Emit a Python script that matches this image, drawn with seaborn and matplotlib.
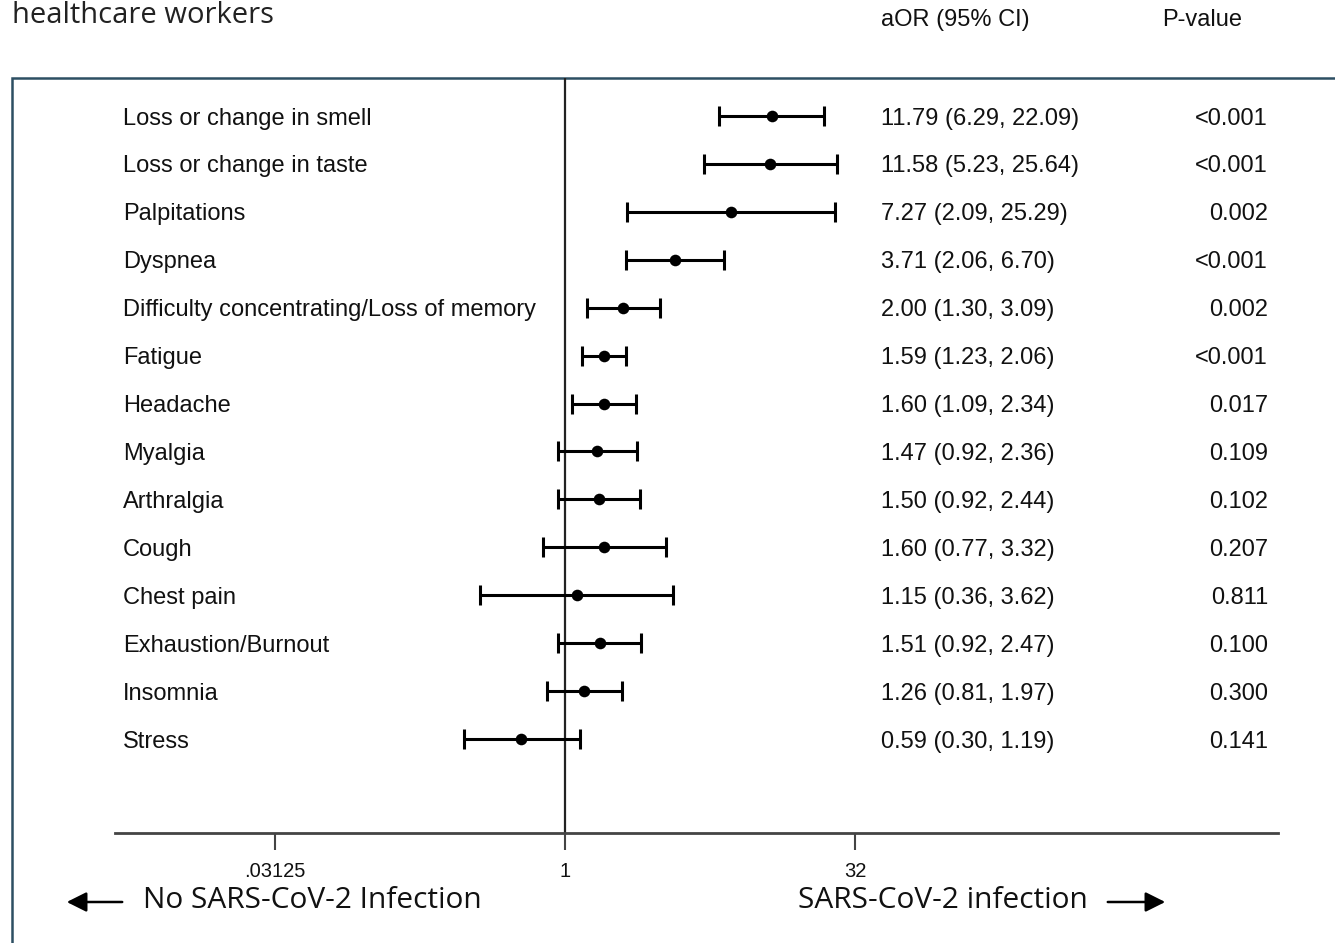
import numpy as np
import pandas as pd
import matplotlib
matplotlib.use("Agg")
import matplotlib.pyplot as plt
import matplotlib.transforms as mtransforms
from matplotlib.patches import Rectangle, FancyArrowPatch
import seaborn as sns

# ---- data ----
symptoms = ["Loss or change in smell", "Loss or change in taste", "Palpitations", "Dyspnea",
            "Difficulty concentrating/Loss of memory", "Fatigue", "Headache", "Myalgia",
            "Arthralgia", "Cough", "Chest pain", "Exhaustion/Burnout", "Insomnia", "Stress"]
aor = [11.79, 11.58, 7.27, 3.71, 2.00, 1.59, 1.60, 1.47, 1.50, 1.60, 1.15, 1.51, 1.26, 0.59]
ci_low = [6.29, 5.23, 2.09, 2.06, 1.30, 1.23, 1.09, 0.92, 0.92, 0.77, 0.36, 0.92, 0.81, 0.30]
ci_high = [22.09, 25.64, 25.29, 6.70, 3.09, 2.06, 2.34, 2.36, 2.44, 3.32, 3.62, 2.47, 1.97, 1.19]
p_values = ["<0.001", "<0.001", "0.002", "<0.001", "0.002", "<0.001", "0.017", "0.109",
            "0.102", "0.207", "0.811", "0.100", "0.300", "0.141"]
tick_vals = [0.03125, 1, 32]
tick_labels = [".03125", "1", "32"]

df = pd.DataFrame({"symptom": symptoms, "aor": aor, "lo": ci_low, "hi": ci_high, "p": p_values})
df["row"] = np.arange(len(df))

sns.set_theme(style="white")
plt.rcParams["font.family"] = ["Liberation Sans", "DejaVu Sans"]

W, H = 1335, 943
fig = plt.figure(figsize=(W / 100, H / 100), dpi=100)
fig.patch.set_facecolor("white")

# axes placement (pixels -> fractions)
ax_l, ax_r, ax_top, ax_bot = 115, 1278, 78, 833
ax = fig.add_axes([ax_l / W, (H - ax_bot) / H, (ax_r - ax_l) / W, (ax_bot - ax_top) / H])
ax.set_facecolor("none")

txt = "#111111"
fs = 17
# error bars
ax.errorbar(df["aor"], df["row"],
            xerr=[df["aor"] - df["lo"], df["hi"] - df["aor"]],
            fmt="none", ecolor="black", elinewidth=2.2, capsize=7, capthick=2.2, zorder=3)
sns.scatterplot(data=df, x="aor", y="row", ax=ax, color="black", s=70,
                edgecolor="black", linewidth=0, zorder=4, legend=False)

ax.set_xscale("log", base=2)
ax.set_xlim(2 ** -7.76, 2 ** 12.29)
ax.set_ylim(14.96, -0.793)
ax.axvline(1, color="#222222", lw=1.6, zorder=2)

for s in ["top", "right", "left"]:
    ax.spines[s].set_visible(False)
ax.spines["bottom"].set_color("#444444")
ax.spines["bottom"].set_linewidth(2)
ax.set_xticks(tick_vals)
ax.set_xticklabels(tick_labels)
ax.xaxis.set_minor_locator(matplotlib.ticker.NullLocator())
ax.tick_params(axis="x", bottom=True, direction="out", length=12, width=1.5,
               color="#444444", labelsize=14.5, labelcolor=txt, pad=9)
ax.set_yticks([])
ax.set_xlabel("")
ax.set_ylabel("")

trans = mtransforms.blended_transform_factory(ax.transAxes, ax.transData)
x_lab = (123 - ax_l) / (ax_r - ax_l)
x_or = (881 - ax_l) / (ax_r - ax_l)
x_p = (1268 - ax_l) / (ax_r - ax_l)
for _, r in df.iterrows():
    ax.text(x_lab, r["row"], r["symptom"], transform=trans, ha="left", va="center_baseline",
            fontsize=fs, color=txt)
    ax.text(x_or, r["row"], f"{r['aor']:.2f} ({r['lo']:.2f}, {r['hi']:.2f})", transform=trans,
            ha="left", va="center_baseline", fontsize=fs, color=txt)
    ax.text(x_p, r["row"], r["p"], transform=trans, ha="right", va="center_baseline",
            fontsize=fs, color=txt)

# headers
fig.text(881 / W, (H - 20) / H, "aOR (95% CI)", ha="left", va="center", fontsize=fs, color=txt)
fig.text(1162 / W, (H - 20) / H, "P-value", ha="left", va="center", fontsize=fs, color=txt)

# title fragment at top
fig.text(12 / W, (H - 1) / H, "healthcare workers", ha="left", va="top",
         fontsize=21, color="#222222", family=["Open Sans", "DejaVu Sans"])

# frame box
fig.add_artist(Rectangle((12 / W, -0.1), 2.0, (H - 78) / H + 0.1, transform=fig.transFigure,
                         fill=False, edgecolor="#2d4f63", linewidth=1.8, zorder=0))

# direction labels with arrows
fig.text(143 / W, (H - 901) / H, "No SARS-CoV-2 Infection", ha="left", va="center",
         fontsize=21.5, color=txt, family=["Open Sans", "DejaVu Sans"])
fig.text(798 / W, (H - 901) / H, "SARS-CoV-2 infection", ha="left", va="center",
         fontsize=21.5, color=txt, family=["Open Sans", "DejaVu Sans"])
fig.add_artist(FancyArrowPatch((125 / W, (H - 902) / H), (64 / W, (H - 902) / H),
               transform=fig.transFigure, arrowstyle="-|>,head_length=0.8,head_width=0.4",
               mutation_scale=15, color="black", lw=1.8))
fig.add_artist(FancyArrowPatch((1105 / W, (H - 902) / H), (1168 / W, (H - 902) / H),
               transform=fig.transFigure, arrowstyle="-|>,head_length=0.8,head_width=0.4",
               mutation_scale=15, color="black", lw=1.8))

fig.savefig("out.png", dpi=100, facecolor="white")
